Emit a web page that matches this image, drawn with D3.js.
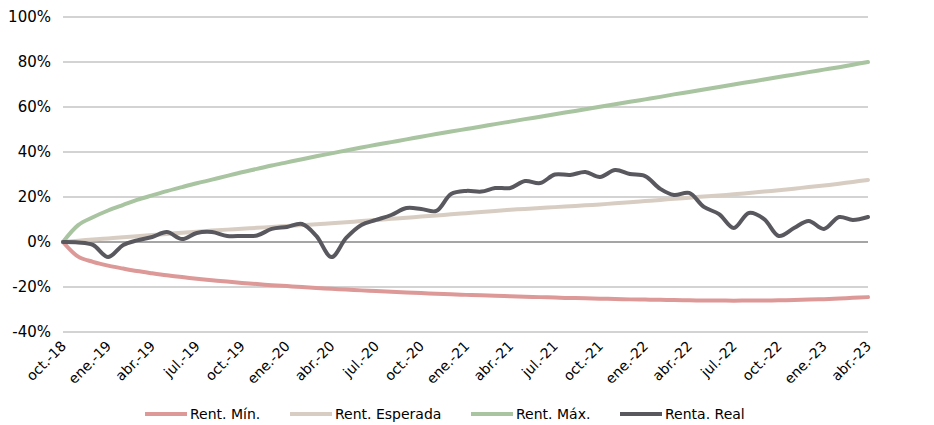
<!DOCTYPE html>
<html>
<head>
<meta charset="utf-8">
<script src="https://cdn.jsdelivr.net/npm/d3@7"></script>
<style>
  html, body { margin: 0; padding: 0; background: #fff; }
  svg { display: block; font-family: "DejaVu Sans", Verdana, sans-serif; }
</style>
</head>
<body>
<svg id="chart" width="934" height="425"></svg>
<script>
// ---- Data (monthly, oct-2018 .. abr-2023) ----
const startMonth = "2018-10";
const rentMin = [0, -6.5, -8.8, -10.5, -11.8, -12.9, -13.9, -14.8, -15.6, -16.3,
  -17.0, -17.6, -18.2, -18.7, -19.2, -19.6, -20.0, -20.4, -20.8, -21.1,
  -21.5, -21.8, -22.1, -22.4, -22.7, -23.0, -23.2, -23.5, -23.7, -23.9,
  -24.1, -24.3, -24.5, -24.7, -24.9, -25.0, -25.2, -25.3, -25.5, -25.6,
  -25.7, -25.8, -25.9, -26.0, -26.0, -26.1, -26.0, -26.0, -25.9, -25.8,
  -25.6, -25.4, -25.1, -24.8, -24.5];
const rentEsperada = [0, 0.6, 1.1, 1.6, 2.1, 2.6, 3.1, 3.6, 4.1, 4.6,
  5.1, 5.5, 5.9, 6.3, 6.7, 7.1, 7.5, 7.9, 8.3, 8.8,
  9.3, 9.8, 10.3, 10.8, 11.3, 11.8, 12.3, 12.8, 13.3, 13.8,
  14.3, 14.7, 15.1, 15.5, 15.9, 16.3, 16.7, 17.2, 17.7, 18.2,
  18.7, 19.2, 19.7, 20.2, 20.7, 21.2, 21.8, 22.4, 23.0, 23.7,
  24.4, 25.1, 25.9, 26.7, 27.6];
const rentMax = [0, 7.5, 11, 14, 16.5, 18.7, 20.7, 22.6, 24.4, 26.1,
  27.7, 29.4, 31, 32.5, 34, 35.4, 36.8, 38.1, 39.4, 40.7,
  42, 43.2, 44.4, 45.6, 46.8, 48, 49.1, 50.2, 51.3, 52.4,
  53.5, 54.6, 55.7, 56.8, 57.9, 59, 60.1, 61.2, 62.3, 63.4,
  64.5, 65.6, 66.7, 67.8, 68.9, 70, 71.1, 72.2, 73.3, 74.4,
  75.5, 76.6, 77.7, 78.8, 80];
const rentaReal = [0, -0.2, -1.3, -6.7, -1.3, 0.7, 2.2, 4.4, 1.3, 4.0,
  4.4, 2.7, 2.7, 2.9, 5.8, 6.7, 8.0, 2.7, -6.7, 1.8,
  7.6, 9.8, 12.0, 15.1, 14.7, 13.8, 21.3, 22.7, 22.4, 24.0,
  24.0, 27.1, 26.2, 30.0, 29.8, 31.1, 28.9, 32.0, 30.2, 29.3,
  23.6, 20.9, 21.8, 15.6, 12.4, 6.2, 12.9, 10.2, 2.7, 6.2,
  9.3, 5.8, 11.1, 9.8, 11.1];
const seriesNames = ["Rent. Mín.", "Rent. Esperada", "Rent. Máx.", "Renta. Real"];
const seriesColors = ["#dc9998", "#d8cdc2", "#a9c4a0", "#58585e"];
const xTickLabels = ["oct.-18","ene.-19","abr.-19","jul.-19","oct.-19","ene.-20","abr.-20","jul.-20",
  "oct.-20","ene.-21","abr.-21","jul.-21","oct.-21","ene.-22","abr.-22","jul.-22","oct.-22","ene.-23","abr.-23"];
const yTicks = [-40, -20, 0, 20, 40, 60, 80, 100];

// ---- Build ----
const parse = d3.timeParse("%Y-%m");
const t0 = parse(startMonth);
const dates = rentMin.map((_, i) => d3.timeMonth.offset(t0, i));
const tickDates = xTickLabels.map((_, i) => d3.timeMonth.offset(t0, i * 3));
const allSeries = [rentMin, rentEsperada, rentMax, rentaReal];

const svg = d3.select("#chart");
const x = d3.scaleTime().domain([dates[0], dates[dates.length - 1]]).range([63, 868]);
const y = d3.scaleLinear().domain([-40, 100]).range([332, 17]);

// gridlines
svg.append("g").selectAll("line").data(yTicks.filter(v => v !== 0)).join("line")
  .attr("x1", 63).attr("x2", 868)
  .attr("y1", d => y(d)).attr("y2", d => y(d))
  .attr("stroke", "#c4c4c4").attr("stroke-width", 1.3);

// y labels
svg.append("g").selectAll("text").data(yTicks).join("text")
  .attr("x", 51).attr("y", d => y(d)).attr("dy", "0.36em")
  .attr("text-anchor", "end").attr("font-size", 15).attr("fill", "#000")
  .text(d => d + "%");

// zero axis
svg.append("line").attr("x1", 63).attr("x2", 868).attr("y1", y(0)).attr("y2", y(0))
  .attr("stroke", "#878787").attr("stroke-width", 1.5);

// x labels
svg.append("g").selectAll("text").data(tickDates).join("text")
  .attr("transform", d => `translate(${x(d) + 4},${347}) rotate(-45)`)
  .attr("text-anchor", "end").attr("font-size", 14).attr("fill", "#000")
  .text((d, i) => xTickLabels[i]);

// lines
const line = d3.line().x((d, i) => x(dates[i])).y(d => y(d)).curve(d3.curveCatmullRom.alpha(0.5));
svg.append("g").selectAll("path").data(allSeries).join("path")
  .attr("d", d => line(d))
  .attr("fill", "none")
  .attr("stroke", (d, i) => seriesColors[i])
  .attr("stroke-width", 4)
  .attr("stroke-linejoin", "round").attr("stroke-linecap", "round");

// legend
const legendX = [145, 290, 471, 620];
const lg = svg.append("g").selectAll("g").data(seriesNames).join("g")
  .attr("transform", (d, i) => `translate(${legendX[i]},414)`);
lg.append("line").attr("x1", 0).attr("x2", 42).attr("y1", 0).attr("y2", 0)
  .attr("stroke", (d, i) => seriesColors[i]).attr("stroke-width", 4);
lg.append("text").attr("x", 45).attr("dy", "0.36em").attr("font-size", 14).attr("fill", "#000")
  .text(d => d);
</script>
</body>
</html>
